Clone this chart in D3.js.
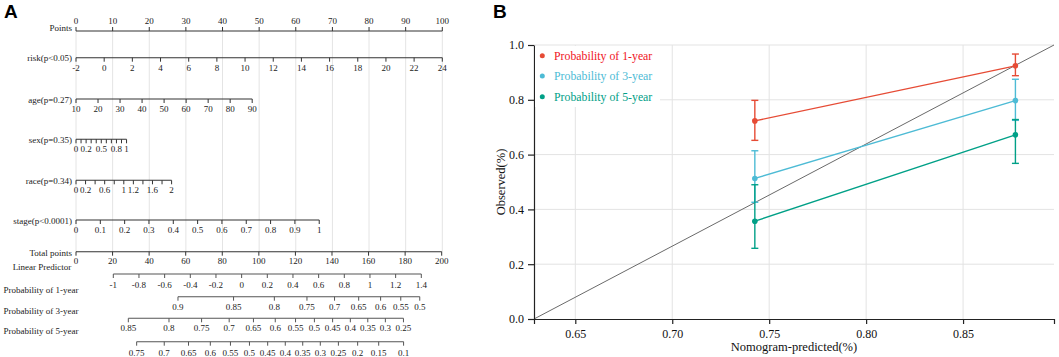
<!DOCTYPE html>
<html><head><meta charset="utf-8">
<script src="https://cdn.jsdelivr.net/npm/d3@7"></script>
<style>
html,body{margin:0;padding:0;background:#fff;}
svg{display:block;}
</style></head>
<body><svg id="c" width="1059" height="357"></svg>
<script>
// ---------- Panel A (nomogram) data ----------
const pointsTicks = [0,10,20,30,40,50,60,70,80,90,100];
const riskTicks = [-2,0,2,4,6,8,10,12,14,16,18,20,22,24];
const ageTicks = [10,20,30,40,50,60,70,80,90];
const sexTicks = [0,0.1,0.2,0.3,0.4,0.5,0.6,0.7,0.8,0.9,1];
const sexLabels = [0,0.2,0.5,0.8,1];
const raceTicks = [0,0.2,0.4,0.6,0.8,1,1.2,1.4,1.6,1.8,2];
const raceLabels = [0,0.2,0.6,1,1.2,1.6,2];
const stageTicks = [0,0.1,0.2,0.3,0.4,0.5,0.6,0.7,0.8,0.9,1];
const variableNames = ["risk(p<0.05)","age(p=0.27)","sex(p=0.35)","race(p=0.34)","stage(p<0.0001)"];
const variableMaxPoints = [100, 48.1, 13.8, 26.1, 66.4];
const totalTicks = [0,20,40,60,80,100,120,140,160,180,200];
const lpTicks = [-1,-0.8,-0.6,-0.4,-0.2,0,0.2,0.4,0.6,0.8,1,1.2,1.4];
const prob1Ticks = [0.9,0.85,0.8,0.75,0.7,0.65,0.6,0.55,0.5];
const prob1LP = [-0.496,-0.063,0.255,0.509,0.724,0.912,1.083,1.240,1.388];
const prob3Ticks = [0.85,0.8,0.75,0.7,0.65,0.6,0.55,0.5,0.45,0.4,0.35,0.3,0.25];
const prob3LP = [-0.883,-0.566,-0.312,-0.097,0.092,0.262,0.420,0.567,0.709,0.847,0.983,1.120,1.261];
const prob5Ticks = [0.75,0.7,0.65,0.6,0.55,0.5,0.45,0.4,0.35,0.3,0.25,0.2,0.15,0.1];
const prob5LP = [-0.818,-0.603,-0.414,-0.244,-0.087,0.061,0.203,0.340,0.476,0.613,0.754,0.904,1.068,1.262];
const probNames = ["Probability of 1-year","Probability of 3-year","Probability of 5-year"];

// ---------- Panel B (calibration) data ----------
const predicted = [0.7426, 0.877];
const seriesNames = ["Probability of 1-year","Probability of 3-year","Probability of 5-year"];
const observed1 = [0.723, 0.924], lower1 = [0.652, 0.888], upper1 = [0.798, 0.967];
const observed3 = [0.513, 0.797], lower3 = [0.426, 0.725], upper3 = [0.614, 0.875];
const observed5 = [0.357, 0.672], lower5 = [0.258, 0.568], upper5 = [0.490, 0.728];
const xTicksB = [0.65,0.70,0.75,0.80,0.85];
const yTicksB = [0,0.2,0.4,0.6,0.8,1.0];

const svg = d3.select("#c");
const serif = "Liberation Serif";

// ============ Panel A ============
const gA = svg.append("g");
gA.append("text").attr("x",4).attr("y",18).text("A")
  .attr("font-family","Liberation Sans").attr("font-weight","bold").attr("font-size",19);

const px = d3.scaleLinear().domain([0,100]).range([76,442.3]);      // points -> pixels
const tx = d3.scaleLinear().domain([0,200]).range([76,441.7]);      // total points -> pixels
const lx = d3.scaleLinear().domain([-1,1.4]).range([113.3,421.3]);  // linear predictor -> pixels

const fs = 9;
const gridTop = 31, gridBottom = 251.7;
gA.append("g").selectAll("line").data(pointsTicks).join("line")
  .attr("x1",d=>px(d)).attr("x2",d=>px(d)).attr("y1",gridTop).attr("y2",gridBottom)
  .attr("stroke","#e4e4e4").attr("stroke-width",1);

function drawAxis(y, xs, ticks, labels, fmt, opt){
  const g = gA.append("g");
  const color = opt.color || "#333";
  const up = opt.up;
  g.append("line").attr("x1",d3.min(ticks.map(xs))).attr("x2",d3.max(ticks.map(xs)))
    .attr("y1",y).attr("y2",y).attr("stroke",color).attr("stroke-width",1.1);
  g.selectAll("line.t").data(ticks).join("line").attr("class","t")
    .attr("x1",d=>xs(d)).attr("x2",d=>xs(d)).attr("y1",y).attr("y2",up? y-4 : y+4)
    .attr("stroke",color).attr("stroke-width",1);
  g.selectAll("text").data(labels).join("text")
    .attr("x",d=>xs(d)).attr("y",up? y-7 : y+(opt.ldy||13))
    .attr("text-anchor","middle").attr("font-family",serif).attr("font-size",fs).attr("fill","#222")
    .text(fmt);
}
function drawName(txt, x, y, anchor){
  gA.append("text").attr("x",x).attr("y",y).attr("text-anchor",anchor)
    .attr("font-family",serif).attr("font-size",fs).attr("fill","#222").text(txt);
}
const f = d => String(d);

// Points
drawAxis(31, px, pointsTicks, pointsTicks, f, {up:true});
drawName("Points", 72, 30.5, "end");

// variables
const varTicks = [riskTicks, ageTicks, sexTicks, raceTicks, stageTicks];
const varLabels = [riskTicks, ageTicks, sexLabels, raceLabels, stageTicks];
const varY = [57.7, 99, 139.3, 180.3, 220];
variableNames.forEach((name,i)=>{
  const t = varTicks[i];
  const vs = d3.scaleLinear().domain([t[0], t[t.length-1]]).range([0, variableMaxPoints[i]]);
  const xs = v => px(vs(v));
  drawAxis(varY[i], xs, t, varLabels[i], f, {});
  drawName(name, 72, varY[i]+3.5, "end");
});

// Total points
drawAxis(251.7, tx, totalTicks, totalTicks, f, {ldy:12});
drawName("Total points", 72, 255.5, "end");

// Linear predictor
drawAxis(274, lx, lpTicks, lpTicks, d=>String(+d.toFixed(1)), {color:"#555", ldy:14});
drawName("Linear Predictor", 42, 269.8, "middle");

// probability axes
const probTicks = [prob1Ticks, prob3Ticks, prob5Ticks];
const probLP = [prob1LP, prob3LP, prob5LP];
const probY = [296.7, 318.3, 341.7];
const probNameY = [292.8, 314.2, 334];
probNames.forEach((name,i)=>{
  const m = new Map(probTicks[i].map((p,j)=>[p, probLP[i][j]]));
  const xs = p => lx(m.get(p));
  drawAxis(probY[i], xs, probTicks[i], probTicks[i], f, {color:"#555", ldy:i===2?14:13});
  drawName(name, 41, probNameY[i], "middle");
});

// ============ Panel B ============
const gB = svg.append("g");
gB.append("text").attr("x",493).attr("y",18).text("B")
  .attr("font-family","Liberation Sans").attr("font-weight","bold").attr("font-size",19);

const L = 534, R = 1054, T = 45, B = 319;
const x = d3.scaleLinear().domain([0.6287, 0.8969]).range([L, R]);
const y = d3.scaleLinear().domain([0, 1]).range([B, T]);

// grid
gB.append("g").selectAll("line").data(xTicksB).join("line")
  .attr("x1",d=>x(d)).attr("x2",d=>x(d)).attr("y1",T).attr("y2",B)
  .attr("stroke","#e3e3e3").attr("stroke-width",1);
gB.append("g").selectAll("line").data(yTicksB.filter(d=>d>0)).join("line")
  .attr("x1",L).attr("x2",R).attr("y1",d=>y(d)).attr("y2",d=>y(d))
  .attr("stroke","#e3e3e3").attr("stroke-width",1);

// diagonal reference
gB.append("line")
  .attr("x1",x(x.domain()[0])).attr("y1",y(y.domain()[0]))
  .attr("x2",x(x.domain()[1])).attr("y2",y(y.domain()[1]))
  .attr("stroke","#6a6a6a").attr("stroke-width",1);

const series = [
  {name:seriesNames[0], obs:observed1, lo:lower1, hi:upper1, color:"#E64B35", text:"#F0141E"},
  {name:seriesNames[1], obs:observed3, lo:lower3, hi:upper3, color:"#4DBBD5", text:"#4DBBD5"},
  {name:seriesNames[2], obs:observed5, lo:lower5, hi:upper5, color:"#00A087", text:"#00A087"}
];
const line = d3.line().x(d=>x(d[0])).y(d=>y(d[1]));
series.forEach(s=>{
  const g = gB.append("g");
  const pts = predicted.map((p,i)=>({p, o:s.obs[i], lo:s.lo[i], hi:s.hi[i]}));
  g.append("path").datum(pts.map(d=>[d.p,d.o])).attr("d",line)
    .attr("fill","none").attr("stroke",s.color).attr("stroke-width",1.4);
  g.selectAll("line.v").data(pts).join("line").attr("class","v")
    .attr("x1",d=>x(d.p)).attr("x2",d=>x(d.p)).attr("y1",d=>y(d.lo)).attr("y2",d=>y(d.hi))
    .attr("stroke",s.color).attr("stroke-width",1.4);
  ["lo","hi"].forEach(k=>{
    g.selectAll("line."+k).data(pts).join("line").attr("class",k)
      .attr("x1",d=>x(d.p)-3.5).attr("x2",d=>x(d.p)+3.5).attr("y1",d=>y(d[k])).attr("y2",d=>y(d[k]))
      .attr("stroke",s.color).attr("stroke-width",1.4);
  });
  g.selectAll("circle").data(pts).join("circle")
    .attr("cx",d=>x(d.p)).attr("cy",d=>y(d.o)).attr("r",2.8).attr("fill",s.color);
});

// axes
const xAxis = gB.append("g").attr("transform",`translate(0,${B})`)
  .call(d3.axisBottom(x).tickValues(xTicksB).tickFormat(d3.format(".2f")).tickSize(5).tickSizeOuter(5));
const yAxis = gB.append("g").attr("transform",`translate(${L},0)`)
  .call(d3.axisLeft(y).tickValues(yTicksB).tickFormat(d3.format(".1f")).tickSize(6).tickSizeOuter(0));
[xAxis,yAxis].forEach(a=>{
  a.attr("font-family",serif);
  a.selectAll("path,line").attr("stroke","#222").attr("stroke-width",1.2);
  a.selectAll("text").attr("font-family",serif).attr("font-size",12).attr("fill","#111");
});
xAxis.selectAll("text").attr("dy","0.95em");
yAxis.selectAll("text").attr("dx","-1");

gB.append("text").attr("x",(L+R)/2).attr("y",351).attr("text-anchor","middle")
  .attr("font-family",serif).attr("font-size",12.5).attr("fill","#111").text("Nomogram-predicted(%)");
gB.append("text").attr("transform",`translate(505,${(T+B)/2}) rotate(-90)`).attr("text-anchor","middle")
  .attr("font-family",serif).attr("font-size",12.5).attr("fill","#111").text("Observed(%)");

// legend
const lg = gB.append("g");
lg.append("rect").attr("x",L+1).attr("y",T+1).attr("width",125).attr("height",61).attr("fill","#fff");
const legY = [55.7, 76, 96.7];
series.forEach((s,i)=>{
  lg.append("circle").attr("cx",542.3).attr("cy",legY[i]).attr("r",2.5).attr("fill",s.color);
  lg.append("text").attr("x",554).attr("y",legY[i]+4).attr("font-family",serif).attr("font-size",11.8)
    .attr("fill",s.text).text(s.name);
});
</script></body></html>
